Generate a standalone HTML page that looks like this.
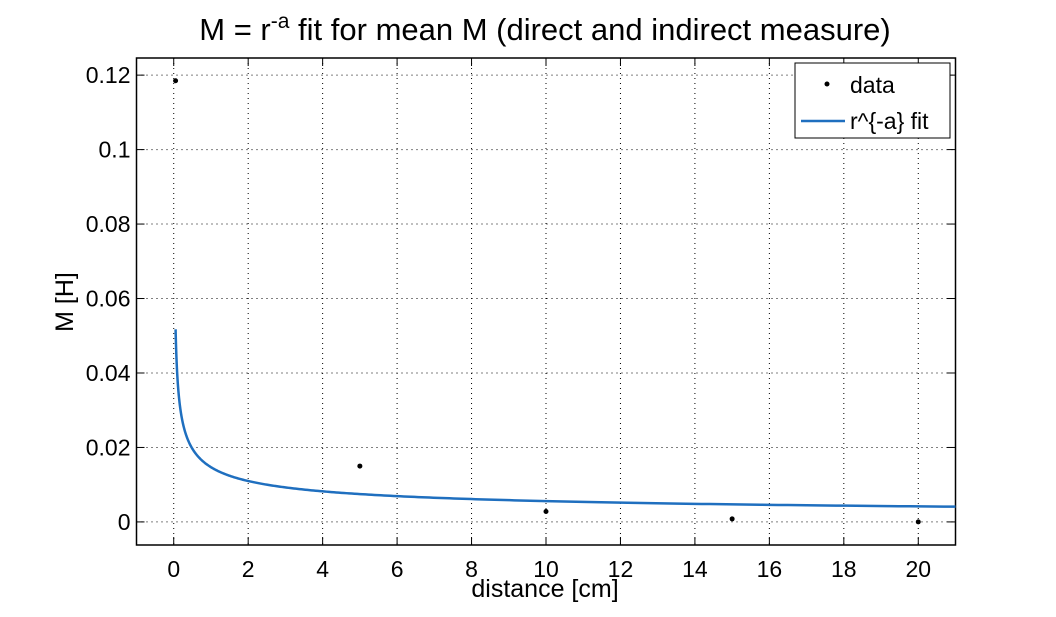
<!DOCTYPE html>
<html><head><meta charset="utf-8"><style>
body{margin:0;background:#fff;}
svg text{font-family:"Liberation Sans",sans-serif;fill:#000;}
</style></head><body>
<svg id="chart" width="1056" height="612" xmlns="http://www.w3.org/2000/svg">
<rect width="1056" height="612" fill="#fff"/>
<g id="grid"></g>
<g id="axes"></g>
<g id="marks"></g>
<text x="545" y="40" font-size="31" text-anchor="middle">M = r<tspan dy="-12" font-size="21">-a</tspan><tspan dy="12"> fit for mean M (direct and indirect measure)</tspan></text>
<text x="545" y="597" font-size="25" text-anchor="middle">distance [cm]</text>
<text transform="translate(73,302) rotate(-90)" font-size="25" text-anchor="middle">M [H]</text>
<g>
<rect x="795" y="63" width="155" height="75" fill="#fff" stroke="#000" stroke-width="1"/>
<circle cx="827" cy="84" r="2.5" fill="#000"/>
<text x="850" y="93" font-size="23">data</text>
<line x1="801" y1="121" x2="845" y2="121" stroke="#1f6fbf" stroke-width="2.5"/>
<text x="850" y="129" font-size="23">r^{-a} fit</text>
</g>
</svg>
<script>
const dataX=[0.05,5,10,15,20];
const dataY=[0.1185,0.015,0.0028,0.0008,0.0];
const fitParams=[0.0147,0.42];
const fitRange=[0.05,21];
const xTicks=[0,2,4,6,8,10,12,14,16,18,20];
const yTicks=[0,0.02,0.04,0.06,0.08,0.1,0.12];
const yTickLabels=["0","0.02","0.04","0.06","0.08","0.1","0.12"];
const L=136.5,R=955.5,T=58,B=545,xmin=-1,xmax=21,ymin=-0.0062,ymax=0.1246;
const sx=v=>L+(v-xmin)/(xmax-xmin)*(R-L);
const sy=v=>B-(v-ymin)/(ymax-ymin)*(B-T);
const NS="http://www.w3.org/2000/svg";
function mk(tag,attrs,parent){const e=document.createElementNS(NS,tag);for(const k in attrs)e.setAttribute(k,attrs[k]);parent.appendChild(e);return e;}
const grid=document.getElementById('grid'),axes=document.getElementById('axes'),marks=document.getElementById('marks');
xTicks.forEach(t=>{const x=sx(t);
 const g=mk('line',{x1:x,y1:T,x2:x,y2:B,stroke:'#000','stroke-width':1,'stroke-dasharray':'1,4'},grid);
 
 
 mk('line',{x1:x,y1:B,x2:x,y2:B-8,stroke:'#000'},axes);
 mk('line',{x1:x,y1:T,x2:x,y2:T+8,stroke:'#000'},axes);
 const tx=mk('text',{x:x,y:B+32,'font-size':23,'text-anchor':'middle'},axes);tx.textContent=t;
 
 
});
yTicks.forEach((t,i)=>{const y=sy(t);
 const g=mk('line',{x1:L,y1:y,x2:R,y2:y,stroke:'#000','stroke-width':1,'stroke-dasharray':'1,4'},grid);
 
 
 mk('line',{x1:L,y1:y,x2:L+8,y2:y,stroke:'#000'},axes);
 mk('line',{x1:R,y1:y,x2:R-8,y2:y,stroke:'#000'},axes);
 const tx=mk('text',{x:L-6,y:y+8,'font-size':23,'text-anchor':'end'},axes);tx.textContent=yTickLabels[i];
 
 
});
const fr=mk('rect',{x:L,y:T,width:R-L,height:B-T,fill:'none',stroke:'#000','stroke-width':1.5},axes);


let d='';for(let i=0;i<=400;i++){const r=fitRange[0]*Math.pow(fitRange[1]/fitRange[0],i/400);const v=fitParams[0]*Math.pow(r,-fitParams[1]);d+=(i?'L':'M')+sx(r).toFixed(2)+','+sy(v).toFixed(2);}
const p=mk('path',{d:d,fill:'none',stroke:'#1f6fbf','stroke-width':2.5},marks);


dataX.forEach((x,i)=>{const c=mk('circle',{cx:sx(x),cy:sy(dataY[i]),r:2.5,fill:'#000'},marks);
 
 
});
</script>
</body></html>
